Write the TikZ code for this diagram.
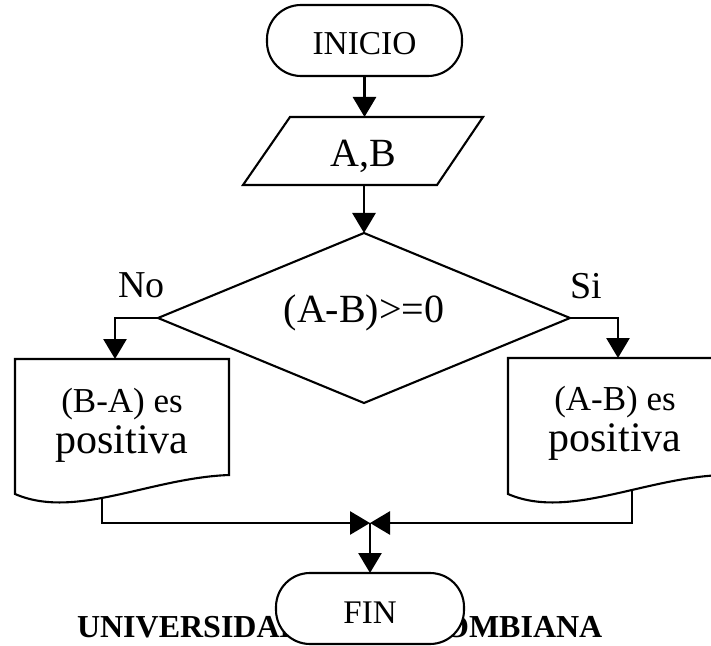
\documentclass[tikz,border=0pt]{standalone}
\usepackage{fontspec}
\setmainfont{Liberation Serif}
\usetikzlibrary{shapes.geometric,arrows.meta}
\begin{document}
\begin{tikzpicture}[x=0.5pt,y=-0.5pt,
  every node/.style={inner sep=0pt,outer sep=0pt},
  outline/.style={draw=black,line width=1.05pt,fill=white},
  flow/.style={draw=black,line width=1.4pt,-{Triangle[length=10pt,width=11.5pt]}},
  terminal/.style={outline,rectangle,rounded corners=17pt,minimum height=35.5pt},
  txt/.style={anchor=base,font=\fontsize{#1}{#1}\selectfont},
]
\useasboundingbox (0,0) rectangle (711,646);
\clip (0,0) rectangle (711,646);

% start
\node[terminal,minimum width=97.5pt] (inicio) at (364.5,40.5) {};
\node[txt=16.7] (inicioT) at (364.5,55) {INICIO};

% input (parallelogram outline, plus a frame node for its anchors)
\draw[outline] (290,117) -- (483,117) -- (437,185) -- (243,185) -- cycle;
\node[rectangle,minimum width=97pt,minimum height=34pt] (ab) at (363,151) {};
\node[txt=20] (abT) at (363,167) {A,B};

% decision
\node[outline,diamond,minimum width=206pt,minimum height=85pt] (dec) at (364,318) {};
\node[txt=20] (decT) at (364,322) {(A-B)>=0};
\node[txt=19,anchor=base west] (no) at (118,298) {No};
\node[txt=19,anchor=base west] (si) at (570,299) {Si};

% output documents
\draw[outline] (15,359) -- (229,359) -- (229,475)
  .. controls (150,478) and (75,520) .. (15,494) -- cycle;
\draw[outline] (508,358) -- (722,358) -- (722,475)
  .. controls (643,478) and (568,520) .. (508,494) -- cycle;
\node[txt=17.5] (l1) at (122,412) {(B-A) es};
\node[txt=21] (l2) at (122,453) {positiva};
\node[txt=17.5] (r1) at (615,410) {(A-B) es};
\node[txt=21] (r2) at (615,451) {positiva};

\coordinate (ltop) at (115,359);
\coordinate (rtop) at (618,358);
\coordinate (lout) at (102,498);
\coordinate (rout) at (632,490);
\coordinate (join) at (370,523);

% footer text, partly hidden by the end terminal
\node[anchor=base west,font=\fontsize{16}{16}\selectfont\bfseries] (uni) at (77,637) {UNIVERSIDAD SURCOLOMBIANA};

% end
\node[terminal,minimum width=94pt] (fin) at (370,608.5) {};
\node[txt=16.5] (finT) at (370,623) {FIN};

% connectors
\draw[flow] (inicio.south) -- (inicio.south |- ab.north);
\draw[flow] (dec.north |- ab.south) -- (dec.north);
\draw[flow] (dec.west) -| (ltop);
\draw[flow] (dec.east) -| (rtop);
\draw[flow] (lout) |- (join);
\draw[flow] (rout) |- (join);
\draw[flow] (join) -- (fin.north);
\end{tikzpicture}
\end{document}
